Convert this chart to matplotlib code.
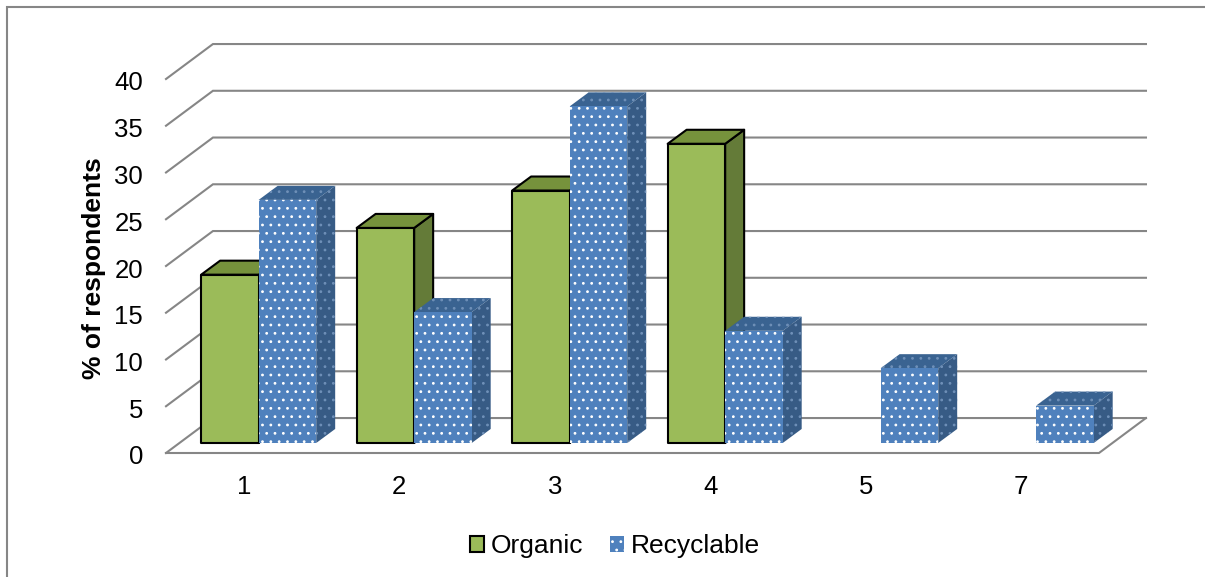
import matplotlib
matplotlib.use("Agg")
import matplotlib.pyplot as plt
from matplotlib.lines import Line2D
from matplotlib.patches import Polygon, Patch
from matplotlib.transforms import ScaledTranslation

plt.rcParams['font.family'] = ['Liberation Sans', 'DejaVu Sans']
#makes the hatch dots a bit fatter
plt.rcParams['hatch.linewidth'] = 0.8

categories = ["1", "2", "3", "4", "5", "7"]
organic = [18, 23, 27, 32, 0, 0]
recyclable = [26, 14, 36, 12, 8, 4]
yticks = [0, 5, 10, 15, 20, 25, 30, 35, 40]

W, H = 1205, 577
fig = plt.figure(figsize=(W/100, H/100), dpi=100)

#outer frame only shows on the left and top in the original
fig.add_artist(Line2D([6.5/W, 6.5/W, 1], [0, 1-7/H, 1-7/H], transform=fig.transFigure,
                      color="#868686", linewidth=1.5, solid_joinstyle="miter"))

#front plane of the fake 3d box, x in categories and y in percent
ax = fig.add_axes([166/W, 1-453/H, 933/W, 374/H])
ax.set_xlim(0, 6)
ax.set_ylim(0, 40)
ax.patch.set_alpha(0)
for s in ax.spines.values():
    s.set_visible(False)

#depth of the floor and of the bars (in data units)
floor_dx = 0.302
floor_dy = 3.74
plane_dx = 0.096
plane_dy = 1.07
bar_w = 0.37
bar_dx = 0.122
bar_dy = 1.5
grid_col = "#868686"

for v in yticks:
    ax.plot([0, floor_dx, 6+floor_dx], [v, v+floor_dy, v+floor_dy], color=grid_col,
            lw=1.5, clip_on=False, zorder=1, solid_joinstyle="miter")
ax.plot([0, 6, 6+floor_dx], [0, 0, floor_dy], color=grid_col, lw=1.5, clip_on=False, zorder=1)


def draw_bar(x, val, front, top, side, edge, lw, hatch=None, hatch_col=None, hatch_side=None):
    x0 = x + plane_dx
    y0 = plane_dy
    x1 = x0 + bar_w
    y1 = y0 + val
    faces = [
        ([(x1, y0), (x1+bar_dx, y0+bar_dy), (x1+bar_dx, y1+bar_dy), (x1, y1)], side, hatch_side),
        ([(x0, y1), (x0+bar_dx, y1+bar_dy), (x1+bar_dx, y1+bar_dy), (x1, y1)], top, hatch_side),
        ([(x0, y0), (x1, y0), (x1, y1), (x0, y1)], front, hatch_col),
    ]
    for pts, col, hc in faces:
        if hatch:
            ax.add_patch(Polygon(pts, closed=True, facecolor=col, edgecolor=hc, hatch=hatch,
                                 linewidth=0, clip_on=False, zorder=3))
        else:
            ax.add_patch(Polygon(pts, closed=True, facecolor=col, edgecolor=edge, linewidth=lw,
                                 clip_on=False, zorder=3, joinstyle="round"))


for i in range(len(categories)):
    if organic[i] > 0:
        draw_bar(i + 0.5 - bar_w, organic[i], "#9BBB59", "#76923C", "#647B38", "black", 1.5)
    if recyclable[i] > 0:
        draw_bar(i + 0.5, recyclable[i], "#4F81BD", "#3A6391", "#375B85", None, 0,
                 hatch="..", hatch_col="white", hatch_side="#6F90B8")

ax.set_yticks(yticks)
ax.set_xticks([i + 0.5 for i in range(len(categories))])
ax.set_xticklabels(categories)
ax.tick_params(axis="both", length=0, labelsize=18.5, colors="black")
ax.tick_params(axis="x", pad=15.5)
ax.tick_params(axis="y", pad=16.5)
#y labels sit about 2px under the axis positions
down = ScaledTranslation(0, -2/100, fig.dpi_scale_trans)
for t in ax.get_yticklabels():
    t.set_transform(t.get_transform() + down)
ax.set_ylabel("% of respondents", fontsize=19, fontweight="bold")
ax.yaxis.set_label_coords(106/W, 1-268/H, transform=fig.transFigure)

handles = [Patch(facecolor="#9BBB59", edgecolor="black", linewidth=1.5, label="Organic"),
           Patch(facecolor="#4F81BD", edgecolor="white", hatch="..", linewidth=0, label="Recyclable")]
fig.legend(handles=handles, loc="center", bbox_to_anchor=(615/W, 1-546/H), ncol=2, frameon=False,
           fontsize=19, handlelength=0.55, handleheight=0.55, handletextpad=0.25, columnspacing=1.0)

fig.savefig("out.png", dpi=100)
